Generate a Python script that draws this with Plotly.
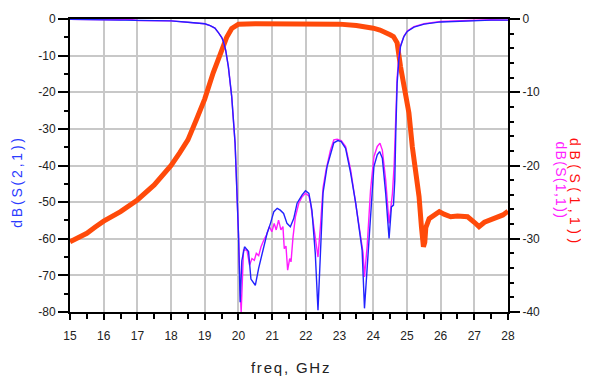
import plotly.graph_objects as go

# ---------------- data ----------------
# dB(S(2,1)) - blue, left axis
freq_s21 = [15, 16, 16.5, 17, 17.5, 18, 18.5, 19, 19.16, 19.3, 19.41, 19.5, 19.55, 19.62, 19.7,
            19.8, 19.9, 19.95, 20.0, 20.05, 20.1, 20.18, 20.3, 20.37, 20.5, 20.6, 20.75, 20.85,
            20.95, 21.05, 21.15, 21.24, 21.34, 21.44, 21.54, 21.64, 21.74, 21.89, 21.99, 22.09,
            22.18, 22.28, 22.36, 22.43, 22.51, 22.63, 22.73, 22.83, 22.95, 23.05, 23.18, 23.33,
            23.48, 23.6, 23.67, 23.74, 23.82, 23.92, 24.02, 24.12, 24.19, 24.27, 24.37, 24.47,
            24.54, 24.6, 24.64, 24.67, 24.71, 24.76, 24.81, 24.91, 25.01, 25.21, 25.51, 26.0,
            26.5, 27.0, 27.5, 28.0]
s21_db = [-0.1, -0.2, -0.2, -0.4, -0.5, -0.5, -0.9, -1.3, -1.8, -2.5, -3.8, -5.0, -6.1, -8.5, -13.0,
          -21.2, -33.9, -44.9, -58.5, -77.3, -66.0, -62.2, -63.5, -71.0, -72.7, -68.0, -62.2, -58.5,
          -55.8, -52.6, -51.7, -52.2, -53.1, -55.8, -56.7, -54.5, -50.3, -48.0, -46.9, -47.6,
          -52.2, -64.0, -79.5, -66.0, -47.5, -40.3, -36.7, -33.8, -33.2, -33.5, -35.3, -42.1,
          -50.3, -57.6, -63.1, -79.0, -67.7, -51.3, -40.3, -37.1, -36.2, -38.0, -47.6, -59.9,
          -51.3, -50.8, -44.0, -31.0, -17.5, -11.1, -7.5, -4.8, -3.4, -2.2, -1.4, -0.8,
          -0.6, -0.4, -0.3, -0.3]

# dB(S(1,1)) - magenta, right axis
freq_s11_sim = [15, 16.5, 16.7, 17, 18, 18.5, 19, 19.16, 19.3, 19.41, 19.5, 19.55, 19.62, 19.7, 19.8,
                19.9, 19.95, 20.0, 20.05, 20.08, 20.15, 20.25, 20.33, 20.4, 20.47, 20.53, 20.6,
                20.67, 20.75, 20.83, 20.92, 20.99, 21.06, 21.12, 21.19, 21.26, 21.32, 21.36, 21.41,
                21.46, 21.52, 21.56, 21.62, 21.69, 21.79, 21.89, 21.99, 22.09, 22.14, 22.24, 22.36,
                22.43, 22.51, 22.6, 22.73, 22.83, 22.93, 23.05, 23.18, 23.33, 23.53, 23.63, 23.7,
                23.74, 23.82, 23.92, 24.02, 24.12, 24.2, 24.27, 24.37, 24.47, 24.57, 24.62, 24.66,
                24.71, 24.76, 24.81, 24.91, 25.01, 25.21, 25.51, 26.0, 26.5, 27.0, 27.5, 28.0]
s11_sim_db = [-0.05, -0.1, 0.0, -0.2, -0.25, -0.45, -0.65, -0.9, -1.25, -1.9, -2.5, -3.05, -4.25, -6.5, -10.6,
              -16.95, -22.45, -29.25, -37.0, -40.0, -31.55, -31.5, -33.6, -32.7, -32.95, -32.0, -32.3,
              -31.1, -30.2, -29.5, -28.35, -29.05, -27.9, -28.8, -27.45, -28.8, -28.35, -31.35, -31.0,
              -34.3, -32.7, -33.15, -29.75, -27.0, -25.15, -24.25, -23.8, -24.15, -25.15, -28.35, -32.5,
              -28.5, -23.05, -20.6, -17.9, -16.5, -16.4, -16.6, -17.4, -20.6, -26.5, -30.0, -32.0,
              -35.2, -31.0, -23.35, -18.8, -17.4, -16.95, -17.9, -22.0, -27.9, -23.8, -20.0, -14.0,
              -8.0, -5.25, -3.65, -2.35, -1.65, -1.05, -0.65, -0.35, -0.25, -0.15, -0.1, -0.15]

# dB(S(1,1)) - orange/red, right axis
freq_s11_meas = [15, 15.25, 15.5, 15.75, 16, 16.5, 17, 17.5, 18, 18.25, 18.5, 18.75, 19, 19.25, 19.5,
                 19.65, 19.8, 19.9, 20, 20.5, 21, 22, 23, 23.5, 23.8, 24, 24.2, 24.35, 24.5, 24.6,
                 24.71, 24.81, 24.96, 25.06, 25.16, 25.26, 25.36, 25.43, 25.49, 25.53, 25.56, 25.66,
                 25.8, 25.96, 26.1, 26.3, 26.5, 26.8, 27.0, 27.14, 27.3, 27.49, 27.7, 27.85, 28.0]
s11_meas_db = [-30.4, -29.9, -29.25, -28.4, -27.6, -26.3, -24.7, -22.65, -20.0, -18.3, -16.5, -13.75,
               -10.9, -7.35, -4.1, -2.5, -1.3, -0.9, -0.7, -0.65, -0.65, -0.65, -0.7, -0.9, -1.05,
               -1.25, -1.5, -1.75, -2.15, -2.4, -3.25, -6.5, -10.1, -12.85, -17.45, -21.1, -24.25,
               -28.35, -31.1, -30.5, -28.5, -27.25, -26.75, -26.3, -26.65, -27.0, -26.9, -27.0,
               -27.75, -28.35, -27.75, -27.45, -27.15, -26.75, -26.25]

# tick labels
x_ticks = list(range(15, 29))
x_tick_labels = [str(v) for v in x_ticks]
y_left_ticks = [0, -10, -20, -30, -40, -50, -60, -70, -80]
y_left_labels = ["0", "-10", "-20", "-30", "-40", "-50", "-60", "-70", "-80"]
y_right_ticks = [0, -10, -20, -30, -40]
y_right_labels = ["0", "-10", "-20", "-30", "-40"]

FONT = "Liberation Sans, Arial, sans-serif"

fig = go.Figure()
fig.add_trace(go.Scatter(x=freq_s11_meas, y=s11_meas_db, yaxis="y2", mode="lines",
                         line=dict(color="#ff4a0a", width=5), name="dB(S(1,1)) meas"))
fig.add_trace(go.Scatter(x=freq_s11_sim, y=s11_sim_db, yaxis="y2", mode="lines",
                         line=dict(color="#ff1aff", width=1.4), name="dB(S(1,1))"))
fig.add_trace(go.Scatter(x=freq_s21, y=s21_db, yaxis="y", mode="lines",
                         line=dict(color="#2222ff", width=1.4), name="dB(S(2,1))"))

axis_common = dict(showline=True, linecolor="black", linewidth=2, ticks="outside",
                   tickcolor="black", tickwidth=1.5, zeroline=False, automargin=False,
                   tickfont=dict(family=FONT, size=12, color="#222222"))

fig.update_layout(
    width=581, height=368,
    margin=dict(l=62, r=81, t=11, b=64),
    paper_bgcolor="white", plot_bgcolor="white",
    showlegend=False,
    font=dict(family=FONT),
    xaxis=dict(range=[15, 28], tickvals=x_ticks, ticktext=x_tick_labels, ticklen=6,
               showgrid=True, gridcolor="#c8c8c8", gridwidth=1.5, mirror=True,
               ticklabelstandoff=6,
               minor=dict(dtick=0.5, tick0=15, ticklen=5, tickcolor="black", tickwidth=1.5,
                          ticks="outside", showgrid=False),
               **axis_common),
    # left axis overlays the right one so that the blue trace is drawn on top
    yaxis=dict(range=[-80, 0], overlaying="y2", side="left", tickvals=y_left_ticks,
               ticktext=y_left_labels, ticklen=10,
               showgrid=True, gridcolor="#c8c8c8", gridwidth=1.5,
               minor=dict(dtick=5, tick0=0, ticklen=4, tickcolor="black", tickwidth=1.5,
                          ticks="outside", showgrid=False),
               **axis_common),
    yaxis2=dict(range=[-40, 0], side="right", tickvals=y_right_ticks,
                ticktext=y_right_labels, ticklen=10, showgrid=False, anchor="x",
                minor=dict(dtick=2, tick0=0, ticklen=4, tickcolor="black", tickwidth=1.5,
                           ticks="outside", showgrid=False),
                **axis_common),
    annotations=[
        dict(text="dB(S(2,1))", xref="paper", yref="paper", x=-0.123, y=0.445,
             xanchor="center", yanchor="middle", textangle=-90, showarrow=False,
             font=dict(family=FONT, size=14, color="#2b3bff")),
        dict(text="dB(S(1,1))", xref="paper", yref="paper", x=1.154, y=0.406,
             xanchor="center", yanchor="middle", textangle=90, showarrow=False,
             font=dict(family=FONT, size=14, color="#ff1010")),
        dict(text="dB(S(1,1))", xref="paper", yref="paper", x=1.121, y=0.447,
             xanchor="center", yanchor="middle", textangle=90, showarrow=False,
             font=dict(family=FONT, size=14, color="#ff22ff")),
        dict(text="freq, GHz", xref="paper", yref="paper", x=0.505, y=-0.191,
             xanchor="center", yanchor="middle", showarrow=False,
             font=dict(family=FONT, size=15, color="#222222")),
    ],
)

post = """
var gd = document.getElementById('{plot_id}');
function spacing(){
  var a = gd.querySelectorAll('.annotation-text');
  var ls = [2.8, 4.5, 1.3, 1.8];
  for (var i = 0; i < a.length && i < ls.length; i++) { a[i].style.letterSpacing = ls[i] + 'px'; }
}
spacing();
"""
fig.write_html("out.html", post_script=post)
